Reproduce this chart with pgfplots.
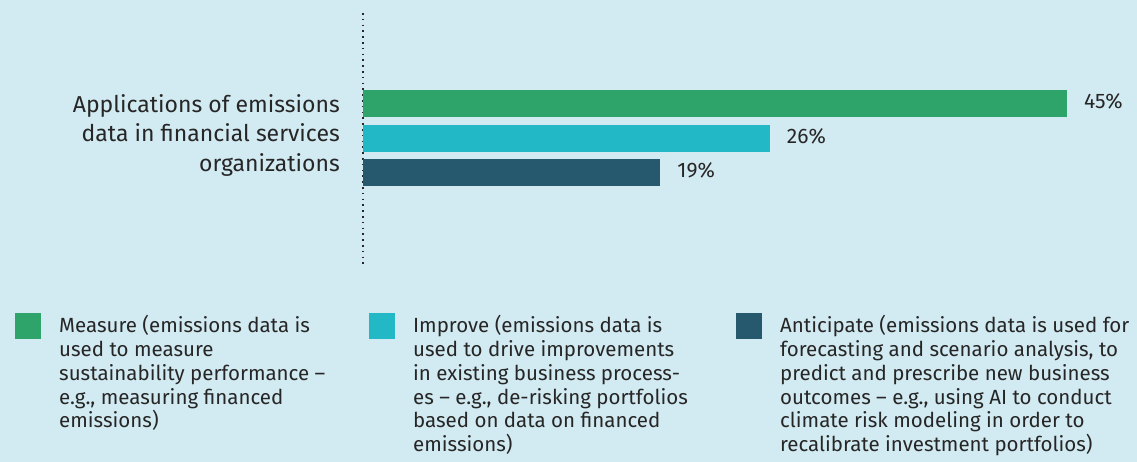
\documentclass[border=0pt]{standalone}
\usepackage{pgfplots}
\pgfplotsset{compat=1.18}
\usepackage{fontspec}
\setmainfont{Fira Sans}
\definecolor{bg}{HTML}{D2EAF1}
\definecolor{cgreen}{HTML}{2EA46B}
\definecolor{ccyan}{HTML}{22B8C6}
\definecolor{cdark}{HTML}{26586E}
\definecolor{ctext}{HTML}{262626}
\newcommand{\legfont}{\fontsize{20.5bp}{23.8bp}\selectfont\color{ctext}}
\begin{document}
\begin{tikzpicture}
\path[use as bounding box] (0,0) rectangle (1137bp,-462bp);
\fill[bg] (0,0) rectangle (1137bp,-462bp);
\begin{axis}[
  at={(363bp,-265bp)}, anchor=south west,
  scale only axis, width=704bp, height=252bp,
  xmin=0, xmax=45, ymin=13, ymax=265, y dir=reverse,
  clip=false,
  xbar, bar width=27bp, bar shift=0pt,
  axis x line=none,
  axis y line*=left,
  y axis line style={ctext, line width=1.6bp, dash pattern=on 1.6bp off 4.2bp, -},
  ytick=\empty,
  nodes near coords={\pgfmathprintnumber{\pgfplotspointmeta}\%},
  point meta=x,
  every node near coord/.append style={anchor=west, inner sep=0pt, xshift=17bp, yshift=2bp, font=\fontsize{21bp}{24bp}\selectfont\color{ctext}},
  /pgf/number format/assume math mode=true,
  mylegimg/.style={legend image code/.code={\fill[##1] (0bp,-26bp) rectangle (26bp,0bp);}},
  legend columns=3,
  legend style={at={(rel axis cs:0,0)}, anchor=north west, xshift=-348bp, yshift=-48bp,
    draw=none, fill=none, inner sep=0pt, column sep=16bp,
    cells={anchor=north west, inner sep=0pt, font=\legfont}},
]
\addplot[fill=cgreen, draw=none, mylegimg] coordinates {(45,103.5)};
\addlegendentry{\parbox[t]{292bp}{\raggedright Measure (emissions data is\\used to measure\\sustainability performance --\\e.g., measuring financed\\emissions)}}
\addplot[fill=ccyan, draw=none, mylegimg] coordinates {(26,138.5)};
\addlegendentry{\parbox[t]{305bp}{\raggedright Improve (emissions data is\\used to drive improvements\\in existing business process-\\es -- e.g., de-risking portfolios\\based on data on financed\\emissions)}}
\addplot[fill=cdark, draw=none, mylegimg] coordinates {(19,172.5)};
\addlegendentry{\parbox[t]{355bp}{\raggedright Anticipate (emissions data is used for\\forecasting and scenario analysis, to\\predict and prescribe new business\\outcomes -- e.g., using AI to conduct\\climate risk modeling in order to\\recalibrate investment portfolios)}}
\node[anchor=east, align=right, inner sep=0pt, xshift=-23bp,
  font=\fontsize{23bp}{29.5bp}\selectfont\color{ctext}]
  at (axis cs:0,135) {Applications of emissions\\data in financial services\\organizations};
\end{axis}
\end{tikzpicture}
\end{document}
